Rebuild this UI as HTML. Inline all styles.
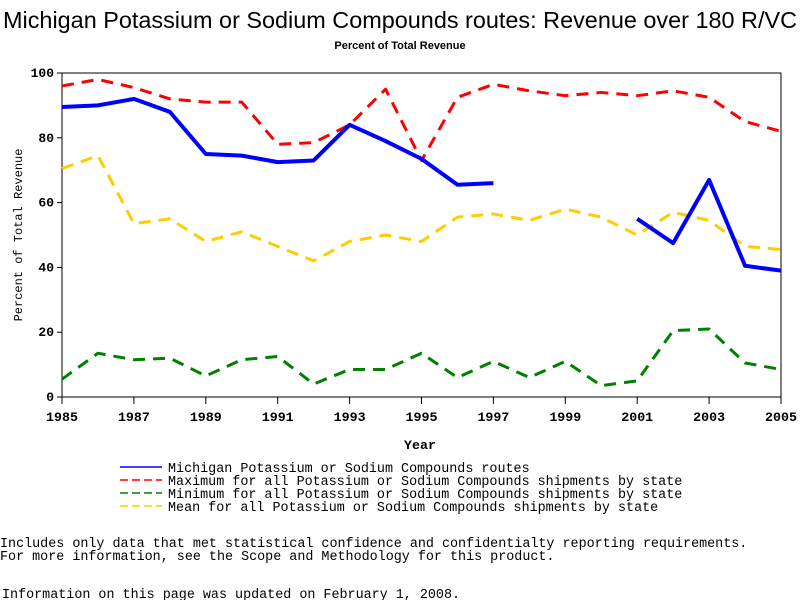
<!DOCTYPE html>
<html><head><meta charset="utf-8"><style>
body{margin:0;background:#fff;width:800px;height:600px;overflow:hidden;font-family:"Liberation Sans",sans-serif}
svg text{font-family:"Liberation Mono",monospace;fill:#000}
</style></head><body>
<svg width="800" height="600">
<text x="400" y="28" text-anchor="middle" textLength="794" lengthAdjust="spacingAndGlyphs" style="font-family:'Liberation Sans',sans-serif;font-size:23px">Michigan Potassium or Sodium Compounds routes: Revenue over 180 R/VC</text>
<text x="400" y="49" text-anchor="middle" style="font-family:'Liberation Sans',sans-serif;font-size:11px;font-weight:bold">Percent of Total Revenue</text>
<g id="plot"></g>
<text x="420" y="449" text-anchor="middle" font-size="13.3" font-weight="bold">Year</text>
<text transform="translate(22,235) rotate(-90)" text-anchor="middle" font-size="12">Percent of Total Revenue</text>
<g id="legend" font-size="13.4"></g>
<text x="0" y="547" font-size="13.4">Includes only data that met statistical confidence and confidentialty reporting requirements.</text>
<text x="0" y="560" font-size="13.4">For more information, see the Scope and Methodology for this product.</text>
<text x="2" y="598" font-size="13.4">Information on this page was updated on February 1, 2008.</text>
</svg>
<script>
const years=[1985,1986,1987,1988,1989,1990,1991,1992,1993,1994,1995,1996,1997,1998,1999,2000,2001,2002,2003,2004,2005];
const michigan=[89.5,90,92,88,75,74.5,72.5,73,84,79,73.5,65.5,66,null,null,null,55,47.5,67,40.5,39];
const maxVals=[96,98,95.5,92,91,91,78,78.5,84,95,73,92.5,96.5,94.5,93,94,93,94.5,92.5,85,82];
const minVals=[5.5,13.5,11.5,12,6.5,11.5,12.5,4,8.5,8.5,13.5,6,11,6,11,3.5,5,20.5,21,10.5,8.5];
const meanVals=[70.5,74.5,53.5,55,48,51,46.5,42,48,50,48,55.5,56.5,54.5,58,55.5,50,57,54.5,46.5,45.5];
const yTicks=[0,20,40,60,80,100];
const xTicks=[1985,1987,1989,1991,1993,1995,1997,1999,2001,2003,2005];
const NS='http://www.w3.org/2000/svg';
const X0=62,X1=781,Y0=397,Y1=73;
const xs=v=>X0+(v-1985)/20*(X1-X0);
const ys=v=>Y0-v/100*(Y0-Y1);
const plot=document.getElementById('plot');
function mk(t,a,p){const e=document.createElementNS(NS,t);for(const k in a)e.setAttribute(k,a[k]);(p||plot).appendChild(e);return e;}
const frame=mk('rect',{x:X0,y:Y1,width:X1-X0,height:Y0-Y1,fill:'none',stroke:'#000','stroke-width':1});


yTicks.forEach(v=>{
 const l=mk('line',{x1:X0-5,x2:X0,y1:ys(v),y2:ys(v),stroke:'#000'});
 
 
 const t=mk('text',{x:X0-8,y:ys(v)+4,'text-anchor':'end','font-size':13,'font-weight':'bold'});t.textContent=v;
 
 
});
xTicks.forEach(v=>{
 const l=mk('line',{x1:xs(v),x2:xs(v),y1:Y0,y2:Y0+7,stroke:'#000'});
 
 
 const t=mk('text',{x:xs(v),y:Y0+24,'text-anchor':'middle','font-size':13.3,'font-weight':'bold'});t.textContent=v;
 
 
});
function series(vals,color,dash,w,name){
 let segs=[],cur=[];
 vals.forEach((v,i)=>{if(v==null){if(cur.length)segs.push(cur);cur=[];}else cur.push(xs(years[i])+','+ys(v));});
 if(cur.length)segs.push(cur);
 segs.forEach(s=>{
  const p=mk('polyline',{points:s.join(' '),fill:'none',stroke:color,'stroke-width':w,'stroke-dasharray':dash,'stroke-linejoin':'round'});
  
  
 });
}
series(maxVals,'#ff0000','12,8',3,'max-line');
series(minVals,'#008000','12,8',3,'min-line');
series(meanVals,'#ffcc00','12,8',3,'mean-line');
series(michigan,'#0000ff','none',4,'michigan-line');
const lg=document.getElementById('legend');
const items=[['Michigan Potassium or Sodium Compounds routes','#0000ff','none'],['Maximum for all Potassium or Sodium Compounds shipments by state','#ff0000','8,4'],['Minimum for all Potassium or Sodium Compounds shipments by state','#008000','8,4'],['Mean for all Potassium or Sodium Compounds shipments by state','#ffcc00','8,4']];
items.forEach((it,i)=>{
 const y=467+i*13;
 const l=mk('line',{x1:120,x2:162,y1:y,y2:y,stroke:it[1],'stroke-width':1.5,'stroke-dasharray':it[2]},lg);
 
 
 const t=mk('text',{x:168,y:y+5,'font-size':13.4},lg);t.textContent=it[0];
 
 
});
</script>
</body></html>
